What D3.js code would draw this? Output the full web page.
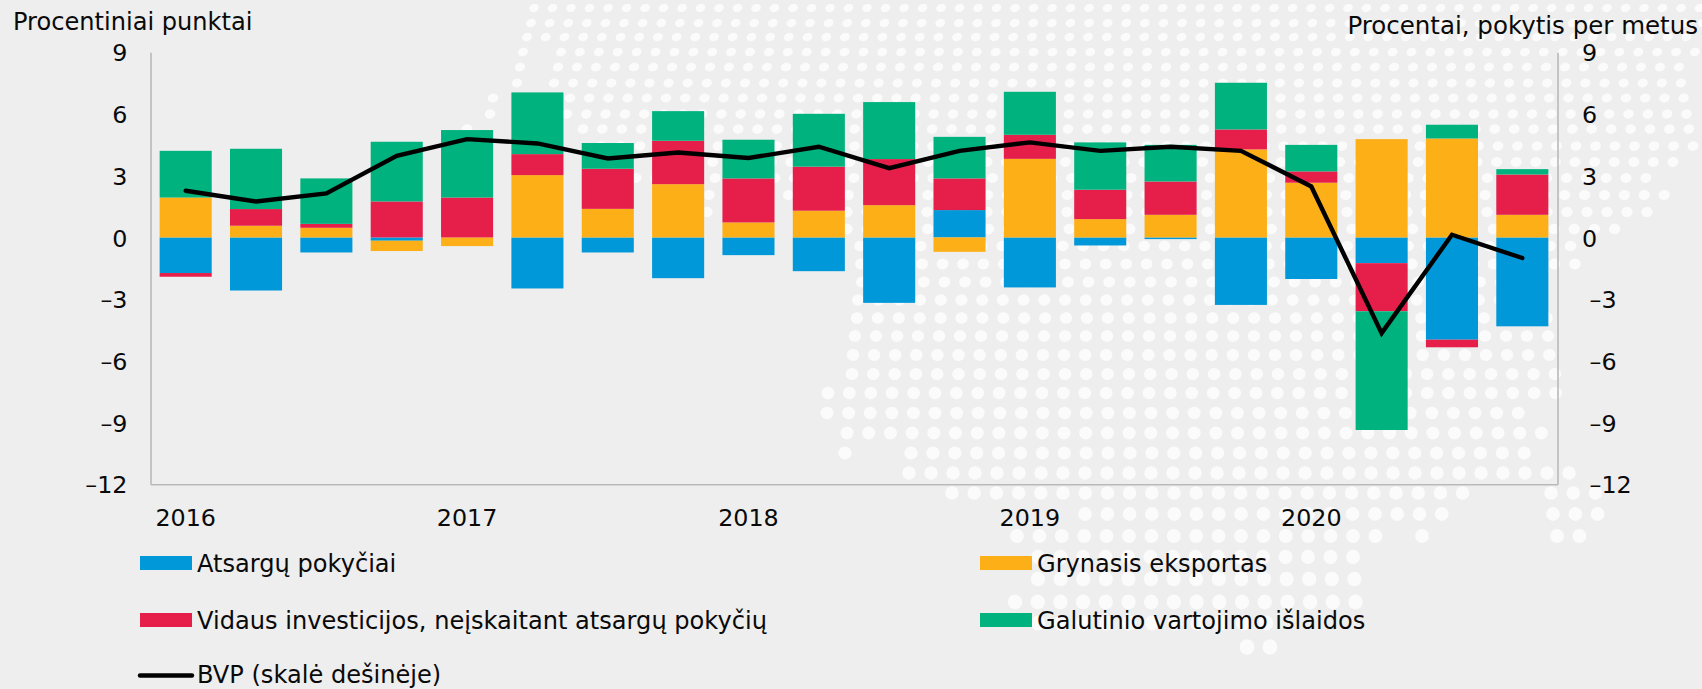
<!DOCTYPE html>
<html lang="lt">
<head>
<meta charset="utf-8">
<script src="https://cdn.jsdelivr.net/npm/d3@7/dist/d3.min.js"></script>
<style>
html,body{margin:0;padding:0;background:#eeeeee;overflow:hidden}
svg{display:block}
text{font-family:"DejaVu Sans",Verdana,sans-serif;font-size:24.1px;fill:#0a0a0a}
.tick text{font-size:23.8px}
</style>
</head>
<body>
<svg id="chart" width="1702" height="689"></svg>
<script>
const years = ["2016","2017","2018","2019","2020"];
const quarters = ["I","II","III","IV"];
const categories = years.flatMap(y => quarters.map(q => y + " " + q));
const yearTicks = years.map(y => y + " I");
const valueTicks = [9,6,3,0,-3,-6,-9,-12];

const inventories = [-1.73,-2.58,-0.73,-0.16,0,-2.48,-0.73,-1.98,-0.86,-1.64,-3.18,1.33,-2.43,-0.39,-0.08,-3.28,-2.02,-1.25,-4.97,-4.32];
const netExports  = [1.94,0.57,0.47,-0.50,-0.42,3.03,1.39,2.59,0.73,1.30,1.57,-0.70,3.82,0.89,1.10,4.28,2.66,4.78,4.81,1.10];
const investment  = [-0.18,0.81,0.19,1.75,1.94,1.02,1.95,2.11,2.14,2.14,2.24,1.54,1.17,1.43,1.62,0.97,0.55,-2.34,-0.37,1.96];
const consumption = [2.27,2.93,2.21,2.90,3.28,3.00,1.25,1.44,1.88,2.57,2.77,2.02,2.09,2.30,1.78,2.27,1.29,-5.77,0.67,0.26];
const gdp = [2.27,1.75,2.14,3.97,4.78,4.57,3.84,4.13,3.86,4.41,3.37,4.21,4.62,4.21,4.41,4.21,2.48,-4.65,0.13,-1.00];

const seriesKeys = ["inv","exp","dom","con"];
const seriesColors = ["#0098d8","#fdaf18","#e51e4a","#00b27d"];
const seriesLabels = ["Atsargų pokyčiai","Grynasis eksportas","Vidaus investicijos, neįskaitant atsargų pokyčių","Galutinio vartojimo išlaidos"];
const lineLabel = "BVP (skalė dešinėje)";
const leftTitle = "Procentiniai punktai";
const rightTitle = "Procentai, pokytis per metus";

// decorative dot-map backdrop: [row, dot pitch, segments of first/last dot]
const dotRows = [
 [8,18.5,[[534,1702]]],[23,18.6,[[531,1702]]],[37,18.7,[[527,1702]]],
 [52,18.9,[[523,523],[561,1695]]],[67,19,[[520,520],[558,1695]]],[83,19.1,[[517,517],[554,1695]]],
 [98,19.2,[[493,493],[570,1690]]],[114,19.3,[[490,490],[567,1690]]],[129,19.4,[[467,467],[583,1690]]],
 [146,19.5,[[601,1693]]],[162,19.6,[[693,1680]]],[178,19.8,[[636,1660]]],
 [195,19.9,[[709,1665]]],[212,20,[[707,725],[847,1648]]],[229,20.2,[[847,1632]]],
 [246,20.3,[[860,1575]]],[264,20.4,[[861,1577]]],[282,20.6,[[862,1560]]],
 [300,20.7,[[858,1555]]],[318,20.9,[[857,1550]]],[336,21,[[855,1548]]],
 [355,21.1,[[853,1550]]],[374,21.3,[[852,1575]]],[393,21.4,[[828,1557]]],
 [413,21.6,[[827,1538]]],[433,21.7,[[847,1542]]],[453,21.9,[[845,845],[911,1545]]],
 [473,22,[[909,1570]]],[493,22.2,[[952,1462],[1551,1595]]],[514,22.3,[[1085,1442],[1553,1598]]],
 [536,22.4,[[1017,1377],[1422,1422],[1557,1579]]],[557,22.5,[[1038,1357]]],[579,22.6,[[1038,1358]]],
 [602,22.7,[[1015,1360]]],[623,22.8,[[1038,1270]]],[647,22.9,[[1247,1270]]]
];

const left = 150.5, right = 1557.5, top_ = 52.3, bottom = 484.3;
const svg = d3.select("#chart");

const x = d3.scaleBand().domain(categories).range([left,right]).paddingInner(0.26).paddingOuter(0.13);
const y = d3.scaleLinear().domain([-12,9]).range([bottom,top_]);

// backdrop
const dots = dotRows.flatMap(([cy,dx,segs]) => segs.flatMap(([a,b]) => d3.range(a,b+1,dx).map(cx => ({cx,cy}))));
svg.append("g").selectAll("ellipse").data(dots).join("ellipse")
  .attr("cx",d=>d.cx).attr("cy",d=>d.cy)
  .attr("rx",d=>4.9+d.cy*0.0038).attr("ry",d=>3.9+d.cy*0.0058)
  .attr("transform",d=>`rotate(${-22*Math.max(0,1-d.cy/420)} ${d.cx} ${d.cy})`)
  .attr("fill","#fbfbfb");

// axes
const styleAxis = g => { g.select(".domain").attr("stroke","#b9b9b9").attr("stroke-width",1.6);
  g.selectAll("text").attr("fill",null).attr("font-size",null).attr("font-family",null); };
const fmt = d => d < 0 ? "\u2013" + Math.abs(d) : String(d);

svg.append("g").attr("transform",`translate(${left},0)`)
  .call(d3.axisLeft(y).tickValues(valueTicks).tickFormat(fmt).tickSize(0).tickSizeOuter(0).tickPadding(23))
  .call(g=>{g.attr("font-size",null).attr("font-family",null);styleAxis(g);g.selectAll("text").attr("dy","0.36em")});

svg.append("g").attr("transform",`translate(${right},0)`)
  .call(d3.axisRight(y).tickValues(valueTicks).tickFormat(fmt).tickSize(0).tickSizeOuter(0).tickPadding(24))
  .call(g=>{g.attr("font-size",null).attr("font-family",null);styleAxis(g);
    g.selectAll("text").attr("dy","0.36em").attr("x",d=>d<0?32:24.5)});

svg.append("g").attr("transform",`translate(0,${bottom})`)
  .call(d3.axisBottom(x).tickValues(yearTicks).tickFormat(d=>d.slice(0,4)).tickSize(0).tickSizeOuter(0).tickPadding(0))
  .call(g=>{g.attr("font-size",null).attr("font-family",null);styleAxis(g);
    g.selectAll("text").attr("dy",null).attr("y",42)});

// bars
const rows = categories.map((c,i)=>({c,inv:inventories[i],exp:netExports[i],dom:investment[i],con:consumption[i]}));
const stacked = d3.stack().keys(seriesKeys).offset(d3.stackOffsetDiverging)(rows);
svg.append("g").selectAll("g").data(stacked).join("g")
  .attr("fill",(d,i)=>seriesColors[i])
  .selectAll("rect").data(d=>d).join("rect")
  .attr("x",d=>x(d.data.c)).attr("width",x.bandwidth())
  .attr("y",d=>y(Math.max(d[0],d[1]))).attr("height",d=>Math.abs(y(d[0])-y(d[1])));

// line
svg.append("path").datum(gdp)
  .attr("fill","none").attr("stroke","#000").attr("stroke-width",4.4).attr("stroke-linejoin","miter").attr("stroke-linecap","round")
  .attr("d",d3.line().x((d,i)=>x(categories[i])+x.bandwidth()/2).y(d=>y(d)));

// titles
svg.append("text").attr("x",13).attr("y",30).text(leftTitle);
svg.append("text").attr("x",1698).attr("y",33.5).attr("text-anchor","end").style("font-size","24.5px").text(rightTitle);

// legend
const legendPos = [[140,556],[980,556],[140,613],[980,613]];
const legend = svg.append("g");
seriesLabels.forEach((t,i)=>{
  const [lx,ly]=legendPos[i];
  legend.append("rect").attr("x",lx).attr("y",ly).attr("width",52).attr("height",14).attr("fill",seriesColors[i]);
  legend.append("text").attr("x",lx+57).attr("y",ly+15.5).text(t);
});
legend.append("line").attr("x1",140).attr("x2",192).attr("y1",675.5).attr("y2",675.5).attr("stroke","#000").attr("stroke-width",4.4).attr("stroke-linecap","round");
legend.append("text").attr("x",197).attr("y",683).text(lineLabel);
</script>
</body>
</html>
